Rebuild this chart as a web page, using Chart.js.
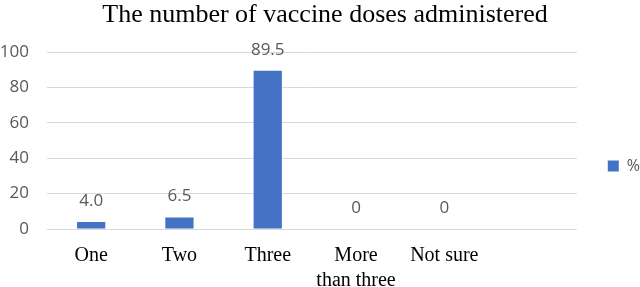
<!DOCTYPE html>
<html>
<head>
<meta charset="utf-8">
<script src="https://cdn.jsdelivr.net/npm/chart.js@4"></script>
<style>
  body { margin: 0; background: #fff; }
  .chart-box { width: 640px; height: 287px; }
</style>
</head>
<body>
<div class="chart-box"><canvas id="myChart"></canvas></div>
<script>
// data
const categories = ['One', 'Two', 'Three', ['More', 'than three'], 'Not sure', ''];
const percent = [4.0, 6.5, 89.5, 0, 0];
const yTicks = [0, 20, 40, 60, 80, 100];

const sans = '"Open Sans", sans-serif';
const serif = '"Liberation Serif", "Times New Roman", serif';

// value labels above the bars
const valueLabels = {
  id: 'valueLabels',
  afterDatasetsDraw(chart) {
    const ctx = chart.ctx;
    const meta = chart.getDatasetMeta(0);
    ctx.save();
    ctx.font = '17px ' + sans;
    ctx.fillStyle = '#595959';
    ctx.textAlign = 'center';
    ctx.textBaseline = 'middle';
    meta.data.forEach((bar, i) => {
      const v = percent[i];
      const txt = v === 0 ? '0' : v.toFixed(1);
      ctx.fillText(txt, bar.x, bar.y - 21);
    });
    ctx.restore();
  }
};

const config = {
  type: 'bar',
  data: {
    labels: categories,
    datasets: [{
      label: '%',
      data: percent,
      backgroundColor: '#4472C4',
      barPercentage: 0.32,
      categoryPercentage: 1.0
    }]
  },
  options: {
    responsive: true,
    maintainAspectRatio: false,
    animation: false,
    // legend gets wide padding so the key sits far right; negative right padding pulls the plot back
    layout: { padding: { left: 0, right: -10, top: 0, bottom: 0 } },
    plugins: {
      title: {
        display: true,
        text: 'The number of vaccine doses administered',
        color: '#000',
        font: { family: serif, size: 26, weight: 'normal' },
        padding: { top: 0, bottom: 21 }
      },
      legend: {
        position: 'right',
        // empty title just nudges the key further down
        title: { display: true, text: '', padding: 13, font: { family: sans, size: 16 } },
        labels: {
          boxWidth: 11,
          boxHeight: 11,
          color: '#595959',
          font: { family: sans, size: 16 },
          padding: 31
        }
      },
      tooltip: { enabled: false }
    },
    scales: {
      x: {
        afterFit(scale) { scale.height = 58; },
        grid: { display: false },
        border: { display: false },
        ticks: {
          color: '#000',
          font: { family: serif, size: 20, lineHeight: 1.25 },
          maxRotation: 0,
          autoSkip: false,
          padding: 6
        }
      },
      y: {
        min: 0,
        max: 100,
        afterFit(scale) { scale.width = 47; },
        afterBuildTicks(scale) { scale.ticks = yTicks.map(v => ({ value: v })); },
        grid: { color: '#d9d9d9', lineWidth: 1, drawTicks: false },
        border: { display: false },
        ticks: {
          color: '#595959',
          font: { family: sans, size: 17 },
          padding: 18
        }
      }
    }
  },
  plugins: [valueLabels]
};

const myChart = new Chart(document.getElementById('myChart'), config);
</script>
</body>
</html>
